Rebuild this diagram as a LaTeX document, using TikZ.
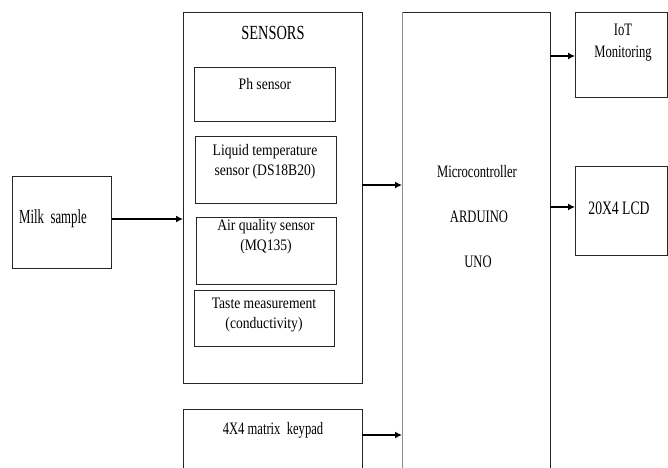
\documentclass[tikz,border=0pt]{standalone}
\usepackage{fontspec}
\setmainfont{Liberation Serif}
\newfontfamily\narrowfont[FakeStretch=0.72]{Liberation Serif}
\newfontfamily\tightfont[FakeStretch=0.64]{Liberation Serif}
\newfontfamily\semifont[FakeStretch=0.85]{Liberation Serif}
\usepackage{tikz}
\usetikzlibrary{positioning,arrows.meta}

\tikzset{
  blockbox/.style={draw=black!85, line width=0.8pt, anchor=north west, inner sep=0pt},
  bigtxt/.style={inner sep=0.75pt, font=\narrowfont\fontsize{20}{22}\selectfont},
  midtxt/.style={inner sep=0.75pt, align=center, font=\narrowfont\fontsize{17.5}{22}\selectfont},
  senstxt/.style={inner sep=0.75pt, align=center, font=\semifont\fontsize{16}{20}\selectfont},
  feed/.style={draw=black, line width=1.3pt, -{Latex[length=7pt,width=7pt]}}
}

\begin{document}
\begin{tikzpicture}[x=1pt,y=1pt,yscale=-1,xscale=1]
  \useasboundingbox (0,0) rectangle (668,467);
  \clip (0,0) rectangle (668,467);

  %Shape: Rectangle [milk]
  \node [blockbox, minimum width=99pt, minimum height=92pt] (milk) at (12,176) {};
  %Shape: Rectangle [sensors]
  \node [blockbox, minimum width=179pt, minimum height=371pt] (sensors) at (183,12) {};
  %Shape: Rectangle [ph]
  \node [blockbox, minimum width=141pt, minimum height=54pt] (ph) at (194,67) {};
  %Shape: Rectangle [liquid]
  \node [blockbox, minimum width=141pt, minimum height=67pt] (liquid) at (195,136) {};
  %Shape: Rectangle [air]
  \node [blockbox, minimum width=140pt, minimum height=67pt] (air) at (196,217) {};
  %Shape: Rectangle [taste]
  \node [blockbox, minimum width=140pt, minimum height=56pt] (taste) at (194,290) {};
  %Shape: Rectangle [keypad]
  \node [blockbox, minimum width=179pt, minimum height=80pt] (keypad) at (183,409) {};
  %Shape: Rectangle [mcu]
  \node [blockbox, minimum width=148pt, minimum height=480pt] (mcu) at (402,12) {};
  \draw [black!45, line width=0.9pt] (mcu.north west) -- (mcu.south west);
  %Shape: Rectangle [iot]
  \node [blockbox, minimum width=92pt, minimum height=85pt] (iot) at (575,12) {};
  %Shape: Rectangle [lcd]
  \node [blockbox, minimum width=92pt, minimum height=89pt] (lcd) at (575,166) {};

  % Text Node
  \node [bigtxt, font=\tightfont\fontsize{20}{22}\selectfont] (milktxt) at (53,219) {Milk\ \ sample};
  % Text Node
  \node [bigtxt] (senstitle) at (273,33) {SENSORS};
  % Text Node
  \node [senstxt] (phtxt) at (265,84) {Ph sensor};
  % Text Node
  \node [senstxt] (liquidtxt) at (265,162) {Liquid temperature\\sensor (DS18B20)};
  % Text Node
  \node [senstxt] (airtxt) at (266,237) {Air quality sensor\\(MQ135)};
  % Text Node
  \node [senstxt] (tastetxt) at (264,315) {Taste measurement\\(conductivity)};
  % Text Node
  \node [midtxt] (keypadtxt) at (273,430) {4X4 matrix\ \ keypad};
  % Text Node
  \node [midtxt] (mcutxta) at (477,172) {Microcontroller};
  % Text Node
  \node [midtxt] (mcutxtb) at (479,217) {ARDUINO};
  % Text Node
  \node [midtxt] (mcutxtc) at (478,262) {UNO};
  % Text Node
  \node [midtxt, align=center] (iottxt) at (623,43) {IoT\\Monitoring};
  % Text Node
  \node [midtxt, font=\narrowfont\fontsize{19}{22}\selectfont] (lcdtxt) at (619,208) {20X4 LCD};

  % arrow starts
  \coordinate (sensout) at (362,185);
  \coordinate (keyout) at (362,435);
  \coordinate (iotout) at (550,56);
  \coordinate (lcdout) at (550,207);

  %Straight Lines
  \draw [feed] (milk.east |- milktxt) -- (milktxt -| sensors.west);
  \draw [feed] (sensout) -- (sensout -| mcu.west);
  \draw [feed] (keyout) -- (keyout -| mcu.west);
  \draw [feed] (iotout) -- (iotout -| iot.west);
  \draw [feed] (lcdout) -- (lcdout -| lcd.west);
\end{tikzpicture}
\end{document}
